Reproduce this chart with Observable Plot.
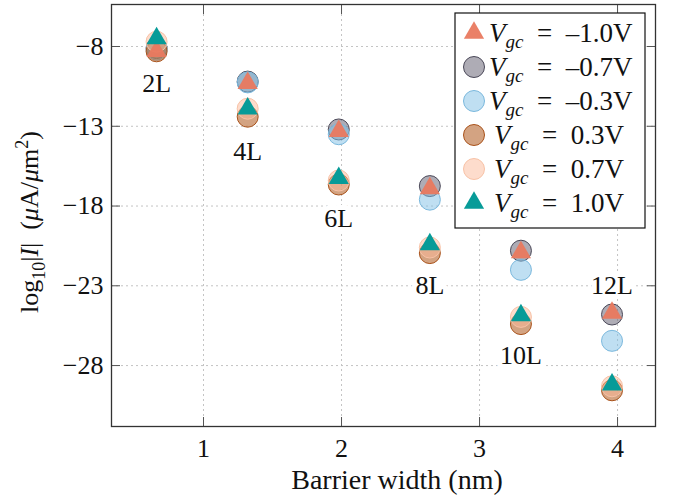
<!DOCTYPE html>
<html>
<head>
<meta charset="utf-8">
<script src="https://cdn.jsdelivr.net/npm/d3@7"></script>
<script src="https://cdn.jsdelivr.net/npm/@observablehq/plot@0.6"></script>
<style>
  html, body { margin: 0; padding: 0; background: #fff; }
  #chart { width: 678px; height: 498px; }
</style>
</head>
<body>
<div id="chart"></div>
<script>
// ---- data ----
const layerNames = ["2L", "4L", "6L", "8L", "10L", "12L"];
const barrierWidth = [0.66, 1.32, 1.98, 2.64, 3.30, 3.96];
const labelY = [-10.3, -14.6, -18.8, -23.0, -27.4, -23.0];

const vgcNeg10 = [-8.3, -10.3, -13.3, -16.9, -20.9, -24.7];
const vgcNeg07 = [-8.1, -10.2, -13.2, -16.75, -20.8, -24.8];
const vgcNeg03 = [-8.2, -10.25, -13.5, -17.6, -22.0, -26.45];
const vgcPos03 = [-8.3, -12.4, -16.65, -20.95, -25.4, -29.55];
const vgcPos07 = [-7.7, -11.9, -16.4, -20.6, -24.95, -29.3];
const vgcPos10 = [-7.5, -11.9, -16.25, -20.4, -24.85, -29.2];

const legendLabels = ["–1.0V", "–0.7V", "–0.3V", "0.3V", "0.7V", "1.0V"];
const xTicks = [1, 2, 3, 4];
const yTicks = [-8, -13, -18, -23, -28];

// ---- styles ----
const series = [
  {values: vgcNeg07, label: legendLabels[1], symbol: "circle", r: 10.5, fill: "#6b6878", fillOpacity: 0.55, stroke: "#4a4858"},
  {values: vgcNeg03, label: legendLabels[2], symbol: "circle", r: 10.5, fill: "#7fc0e6", fillOpacity: 0.5, stroke: "#7ab8dd"},
  {values: vgcPos03, label: legendLabels[3], symbol: "circle", r: 10.5, fill: "#b5652e", fillOpacity: 0.6, stroke: "#a9521a"},
  {values: vgcPos07, label: legendLabels[4], symbol: "circle", r: 10.5, fill: "#fbb99a", fillOpacity: 0.5, stroke: "#f8c2a6"},
  {values: vgcNeg10, label: legendLabels[0], symbol: "triangle", r: 7.5, fill: "#e9795f", fillOpacity: 0.95, stroke: "none"},
  {values: vgcPos10, label: legendLabels[5], symbol: "triangle", r: 7.5, fill: "#079b98", fillOpacity: 1, stroke: "none"}
];
const legendOrder = [4, 0, 1, 2, 3, 5];

const FONT = "Liberation Serif";

const dotMarks = series.map(s =>
  Plot.dot(barrierWidth.map((x, i) => ({x, y: s.values[i]})), {
    x: "x", y: "y", symbol: s.symbol, r: s.r,
    fill: s.fill, fillOpacity: s.fillOpacity, stroke: s.stroke, strokeWidth: 1
  })
);

const labelData = layerNames.map((name, i) => ({name, x: barrierWidth[i], y: labelY[i]}));

const chart = Plot.plot({
  width: 678,
  height: 498,
  marginLeft: 111,
  marginRight: 23,
  marginTop: 4,
  marginBottom: 72,
  style: {fontFamily: FONT, fontSize: "25px", background: "white", color: "#111"},
  x: {domain: [0.3333, 4.275]},
  y: {domain: [-31.82, -5.367]},
  marks: [
    Plot.gridX({ticks: xTicks, stroke: "#c4c4c4", strokeOpacity: 1, strokeDasharray: "2,3"}),
    Plot.gridY({ticks: yTicks, stroke: "#c4c4c4", strokeOpacity: 1, strokeDasharray: "2,3"}),
    Plot.axisX({ticks: xTicks, anchor: "bottom", tickSize: -9, tickFormat: () => "", label: null, stroke: "#555"}),
    Plot.axisX({ticks: xTicks, anchor: "top", tickSize: -9, tickFormat: () => "", label: null, stroke: "#555"}),
    Plot.axisY({ticks: yTicks, anchor: "left", tickSize: -9, tickFormat: () => "", label: null, stroke: "#555"}),
    Plot.axisY({ticks: yTicks, anchor: "right", tickSize: -9, tickFormat: () => "", label: null, stroke: "#555"}),
    Plot.axisX({ticks: xTicks, anchor: "bottom", tickSize: 0, tickPadding: 12, label: null, fontSize: 26, tickFormat: d => String(d)}),
    Plot.axisY({ticks: yTicks, anchor: "left", tickSize: 0, tickPadding: 8, label: null, fontSize: 26}),
    Plot.text(labelData, {x: "x", y: "y", text: "name", fontSize: 26, fill: "#111", stroke: "white", strokeWidth: 10, paintOrder: "stroke"}),
    ...dotMarks,
    Plot.frame({stroke: "#333", strokeWidth: 1.3})
  ]
});

document.getElementById("chart").appendChild(chart);

const svg = d3.select(chart);

// x label
svg.append("text")
  .attr("x", 397).attr("y", 489)
  .attr("text-anchor", "middle")
  .attr("font-family", FONT).attr("font-size", 28).attr("fill", "#111")
  .text("Barrier width (nm)");

// y label
const yl = svg.append("text")
  .attr("transform", "translate(38,222) rotate(-90)")
  .attr("text-anchor", "middle")
  .attr("font-family", FONT).attr("font-size", 26).attr("fill", "#111");
yl.append("tspan").text("log");
yl.append("tspan").attr("font-size", 18).attr("dy", 7).text("10");
yl.append("tspan").attr("dy", -7).text("|");
yl.append("tspan").attr("font-style", "italic").text("I");
yl.append("tspan").text("|\u2002(");
yl.append("tspan").attr("font-style", "italic").text("μ");
yl.append("tspan").text("A/");
yl.append("tspan").attr("font-style", "italic").text("μ");
yl.append("tspan").text("m");
yl.append("tspan").attr("font-size", 18).attr("dy", -10).text("2");
yl.append("tspan").attr("dy", 10).text(")");

// legend
const lg = svg.append("g");
lg.append("rect")
  .attr("x", 455).attr("y", 13).attr("width", 190).attr("height", 215)
  .attr("fill", "white").attr("stroke", "#111").attr("stroke-width", 1.2);
legendOrder.forEach((si, row) => {
  const s = series[si];
  const cy = 33 + row * 34;
  const sym = s.symbol === "triangle" ? d3.symbolTriangle : d3.symbolCircle;
  lg.append("path")
    .attr("d", d3.symbol(sym, Math.PI * s.r * s.r)())
    .attr("transform", `translate(474,${cy})`)
    .attr("fill", s.fill).attr("fill-opacity", s.fillOpacity)
    .attr("stroke", s.stroke).attr("stroke-width", 1);
  const neg = s.label.startsWith("–");
  const t = lg.append("text")
    .attr("x", neg ? 489 : 494).attr("y", cy + 9)
    .attr("text-anchor", "start")
    .attr("font-family", FONT).attr("font-size", 27).attr("fill", "#111");
  t.append("tspan").attr("font-style", "italic").text("V");
  t.append("tspan").attr("font-style", "italic").attr("font-size", 19).attr("dy", 6).text("gc");
  t.append("tspan").attr("dy", -6).text("\u2002=\u2002" + s.label);
});
</script>
</body>
</html>
